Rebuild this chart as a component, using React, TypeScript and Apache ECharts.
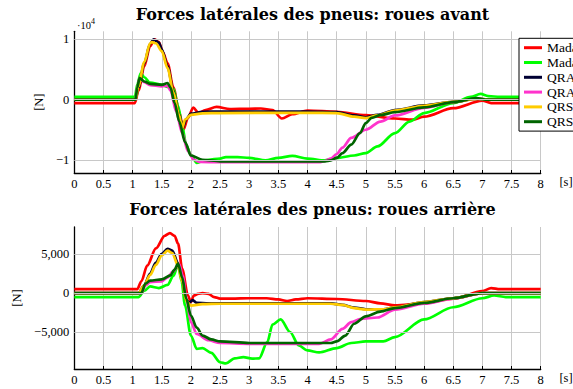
import React, { useEffect, useRef } from "react";
import * as echarts from "echarts";

type P = [number, number][];

const SERIES_NAMES = ["Mada G", "Mada D", "QRA G", "QRA D", "QRS G", "QRS D"];
const COLORS = ["#ff0000", "#00ff00", "#000033", "#ff33cc", "#ffcc00", "#006400"];

const TITLE_FRONT = "Forces latérales des pneus: roues avant";
const TITLE_REAR = "Forces latérales des pneus: roues arrière";
const FRONT_TICKS = [-10000, 0, 10000];
const REAR_TICKS = [-5000, 0, 5000];

// Front tyres
const frontMadaG: P = [[0,-550],[1.04,-550],[1.1,1500],[1.2,5500],[1.3,8800],[1.38,9950],[1.45,9500],[1.52,7800],[1.6,6000],[1.7,2000],[1.8,-2000],[1.87,-4950],[1.95,-3000],[2.04,-1300],[2.13,-2200],[2.25,-1700],[2.44,-1200],[2.67,-1550],[3.0,-1500],[3.2,-1450],[3.4,-1700],[3.56,-3100],[3.74,-2400],[4.0,-1800],[4.5,-2000],[5.0,-2550],[5.5,-3100],[5.8,-3300],[6.0,-2800],[6.5,-1400],[7.0,-150],[7.15,-550],[8,-550]];
const frontMadaD: P = [[0,450],[1.04,450],[1.08,2500],[1.14,4400],[1.2,3700],[1.3,2800],[1.5,2500],[1.6,2100],[1.7,1800],[1.78,-1000],[1.85,-4300],[1.92,-7500],[2.0,-9100],[2.1,-10400],[2.2,-10100],[2.3,-9900],[2.5,-9700],[2.6,-9450],[2.8,-9450],[3.0,-9600],[3.28,-10000],[3.5,-9600],[3.74,-9250],[4.0,-9700],[4.3,-10000],[4.5,-9600],[4.8,-9200],[5.0,-8800],[5.2,-7700],[5.5,-5500],[5.75,-3600],[6.0,-2200],[6.5,-550],[6.8,450],[6.97,950],[7.1,600],[7.3,450],[8,450]];
const frontQraG: P = [[0,0],[1.05,0],[1.1,2000],[1.2,6000],[1.3,9200],[1.36,9950],[1.45,9400],[1.5,8300],[1.6,5500],[1.7,1400],[1.8,-2500],[1.86,-4600],[1.92,-3200],[2.0,-2300],[2.2,-2000],[2.5,-1950],[3.0,-1950],[4.0,-1950],[4.5,-2050],[4.8,-2600],[5.0,-2900],[5.2,-2500],[5.5,-1700],[6.0,-950],[6.5,-350],[6.9,150],[7.0,100],[7.1,0],[8,0]];
const frontQraD: P = [[0,0],[1.05,0],[1.08,2000],[1.12,3500],[1.2,2900],[1.3,2400],[1.5,2200],[1.6,2300],[1.65,1500],[1.75,-2000],[1.85,-5500],[1.95,-8500],[2.05,-9900],[2.15,-10250],[2.5,-10300],[4.2,-10300],[4.3,-10100],[4.4,-9700],[4.5,-8950],[4.6,-7900],[4.75,-6300],[5.0,-4950],[5.25,-3600],[5.5,-2600],[6.0,-1350],[6.5,-400],[6.9,200],[7.05,0],[8,0]];
const frontQrsG: P = [[0,0],[1.05,0],[1.1,2200],[1.2,6200],[1.3,9300],[1.33,9500],[1.4,9300],[1.5,8000],[1.6,5200],[1.7,1200],[1.8,-2600],[1.85,-4700],[1.9,-3300],[2.0,-2500],[2.2,-2250],[2.5,-2200],[4.0,-2150],[4.5,-2200],[4.8,-2800],[5.0,-3050],[5.2,-2600],[5.5,-1800],[6.0,-1000],[6.5,-350],[6.9,150],[7.0,100],[7.1,0],[8,0]];
const frontQrsD: P = [[0,0],[1.05,0],[1.08,2000],[1.12,3550],[1.2,3000],[1.3,2600],[1.5,2450],[1.6,2750],[1.65,2000],[1.72,-500],[1.8,-3600],[1.9,-7000],[2.0,-9200],[2.2,-9900],[2.5,-10150],[4.3,-10150],[4.4,-10000],[4.5,-9600],[4.6,-8800],[4.75,-7400],[4.9,-5500],[5.0,-3850],[5.1,-3000],[5.25,-2550],[5.5,-2050],[6.0,-1250],[6.5,-400],[6.9,250],[7.05,0],[8,0]];

// Rear tyres
const rearMadaG: P = [[0,500],[1.08,500],[1.15,1500],[1.25,3500],[1.4,5700],[1.55,7300],[1.64,7650],[1.72,7300],[1.78,6300],[1.85,3100],[1.95,-300],[2.0,-1150],[2.05,-300],[2.12,-100],[2.2,0],[2.3,-100],[2.4,-500],[2.5,-700],[2.7,-700],[3.0,-650],[3.3,-650],[3.5,-800],[3.65,-1000],[3.8,-800],[4.0,-650],[4.5,-750],[5.0,-1000],[5.25,-1300],[5.5,-1550],[6.0,-1300],[6.5,-700],[7.0,250],[7.15,650],[7.3,500],[8,500]];
const rearMadaD: P = [[0,-500],[1.1,-500],[1.2,300],[1.3,850],[1.45,650],[1.6,1050],[1.7,2200],[1.78,3600],[1.84,1500],[1.9,-1600],[2.0,-5400],[2.1,-7100],[2.2,-7000],[2.35,-7600],[2.5,-8800],[2.6,-8950],[2.75,-8300],[2.9,-8150],[3.05,-8350],[3.17,-8300],[3.31,-6250],[3.4,-4000],[3.54,-3350],[3.7,-4950],[3.85,-6650],[4.0,-7300],[4.2,-7550],[4.5,-7000],[4.75,-6350],[5.0,-6150],[5.3,-6150],[5.5,-5600],[6.0,-3350],[6.5,-1800],[7.0,-650],[7.2,-300],[7.4,-500],[8,-500]];
const rearQraG: P = [[0,0],[1.1,0],[1.2,1000],[1.3,2500],[1.4,3900],[1.5,5000],[1.6,5650],[1.68,5400],[1.78,3800],[1.85,1700],[1.92,-900],[1.97,-1200],[2.03,-900],[2.1,-1250],[2.3,-1300],[4.4,-1300],[4.6,-1500],[4.8,-1850],[5.0,-2050],[5.3,-2050],[5.5,-1800],[6.0,-1150],[6.5,-650],[7.0,0],[8,0]];
const rearQraD: P = [[0,0],[1.15,0],[1.22,1000],[1.3,1400],[1.5,1500],[1.6,2000],[1.7,2800],[1.8,3700],[1.86,2200],[1.93,-1000],[2.0,-3700],[2.1,-5200],[2.3,-6000],[2.5,-6350],[3.0,-6450],[4.2,-6450],[4.4,-5900],[4.6,-4550],[4.75,-3700],[4.9,-3300],[5.2,-3100],[5.5,-2100],[6.0,-1350],[6.5,-700],[7.0,0],[8,0]];
const rearQrsG: P = [[0,0],[1.1,0],[1.2,1000],[1.3,2300],[1.4,3600],[1.5,4800],[1.6,5400],[1.68,5100],[1.78,3500],[1.85,1500],[1.92,-1000],[2.0,-1600],[2.2,-1400],[2.5,-1350],[4.4,-1350],[4.6,-1500],[4.8,-1900],[5.0,-2100],[5.3,-2050],[5.5,-1800],[6.0,-1150],[6.5,-650],[7.0,0],[8,0]];
const rearQrsD: P = [[0,0],[1.15,0],[1.22,1200],[1.3,1600],[1.5,1750],[1.65,2250],[1.72,3000],[1.78,3750],[1.85,2000],[1.92,-700],[2.0,-2850],[2.1,-4400],[2.2,-5400],[2.35,-5900],[2.5,-6150],[3.0,-6350],[4.4,-6350],[4.5,-6150],[4.65,-5400],[4.8,-3900],[5.0,-2950],[5.25,-2350],[5.5,-1900],[6.0,-1250],[6.5,-650],[7.0,0],[8,0]];

const FRONT = [frontMadaG, frontMadaD, frontQraG, frontQraD, frontQrsG, frontQrsD];
const REAR = [rearMadaG, rearMadaD, rearQraG, rearQraD, rearQrsG, rearQrsD];

const SERIF = "Liberation Serif";
const TITLE_FONT = "DejaVu Serif";
const minus = (s: string) => s.replace("-", "\u2212");

export default function App() {
  const ref = useRef<HTMLDivElement>(null);
  useEffect(() => {
    if (!ref.current) return;
    const chart = echarts.init(ref.current, null, { renderer: "svg" });
    const grids = [
      { left: 74.3, width: 466.4, top: 31.3, height: 141.7 },
      { left: 74.3, width: 466.4, top: 227, height: 142 },
    ];
    const xAxisBase = (gi: number) => ({
      type: "value",
      gridIndex: gi,
      min: 0,
      max: 8,
      interval: 0.5,
      axisLine: { show: true, onZero: false, lineStyle: { color: "#000", width: 1.3 } },
      axisTick: { show: true, inside: true, length: 3, lineStyle: { color: "#000" } },
      axisLabel: { color: "#000", fontFamily: SERIF, fontSize: 12.5, margin: 4 },
      splitLine: { show: true, lineStyle: { color: "#c8c8c8", width: 1 } },
    });
    const yAxisBase = (gi: number, min: number, max: number, ticks: number[], fmt: (v: number) => string) => ({
      type: "value",
      gridIndex: gi,
      min,
      max,
      name: "[N]",
      nameLocation: "middle",
      nameRotate: 90,
      nameGap: 28,
      nameTextStyle: { color: "#000", fontFamily: SERIF, fontSize: 12.5 },
      axisLine: { show: true, onZero: false, lineStyle: { color: "#000", width: 1.3 } },
      axisTick: { show: true, inside: true, length: 3, customValues: ticks, lineStyle: { color: "#000" } },
      axisLabel: { color: "#000", fontFamily: SERIF, fontSize: 12.5, margin: 5, customValues: ticks, formatter: fmt },
      splitLine: { show: false },
    });
    const gridLines = (gi: number, ticks: number[]) => ({
      type: "line",
      name: "grid" + gi,
      xAxisIndex: gi,
      yAxisIndex: gi,
      data: [],
      z: 1,
      silent: true,
      markLine: {
        silent: true,
        symbol: "none",
        label: { show: false },
        lineStyle: { color: "#c8c8c8", type: "solid", width: 1 },
        data: ticks.map((t) => ({ yAxis: t })),
      },
    });
    const mk = (data: P, i: number, gi: number) => ({
      type: "line",
      name: SERIES_NAMES[i],
      xAxisIndex: gi,
      yAxisIndex: gi,
      data,
      symbol: "none",
      smooth: 0.3,
      smoothMonotone: "x",
      lineStyle: { color: COLORS[i], width: 2.7 },
      itemStyle: { color: COLORS[i] },
      z: 2,
    });
    const option: any = {
      animation: false,
      backgroundColor: "#fff",
      grid: grids,
      title: [
        { text: TITLE_FRONT, left: 307.5, top: 1, textAlign: "center", textStyle: { fontFamily: TITLE_FONT, fontSize: 16, fontWeight: "bold", color: "#000" } },
        { text: TITLE_REAR, left: 307.5, top: 196, textAlign: "center", textStyle: { fontFamily: TITLE_FONT, fontSize: 16, fontWeight: "bold", color: "#000" } },
      ],
      xAxis: [xAxisBase(0), xAxisBase(1)],
      yAxis: [
        yAxisBase(0, -12080, 11270, FRONT_TICKS, (v: number) => minus(String(v / 10000))),
        yAxisBase(1, -9660, 8420, REAR_TICKS, (v: number) => minus(v === 0 ? "0" : (v < 0 ? "-" : "") + Math.abs(v).toLocaleString("en-US"))),
      ],
      legend: {
        data: SERIES_NAMES,
        orient: "vertical",
        left: 519,
        top: 38.3,
        backgroundColor: "#fff",
        borderColor: "#000",
        borderWidth: 1,
        borderRadius: 0,
        padding: [2, 40, 2, 5],
        itemGap: 0,
        itemWidth: 18,
        itemHeight: 3,
        icon: "rect",
        textStyle: { fontFamily: SERIF, fontSize: 13.5, lineHeight: 14.8, color: "#000" },
        z: 10,
      },
      graphic: [
        { type: "text", left: 77, top: 20, style: { text: "\u00b710", fontFamily: SERIF, fontSize: 10.5, fill: "#000" } },
        { type: "text", left: 91, top: 17.5, style: { text: "4", fontFamily: SERIF, fontSize: 8, fill: "#000" } },
        { type: "text", x: 566, y: 182, style: { text: "[s]", fontFamily: SERIF, fontSize: 12.5, fill: "#000", align: "center", verticalAlign: "middle" } },
        { type: "text", x: 566, y: 378, style: { text: "[s]", fontFamily: SERIF, fontSize: 12.5, fill: "#000", align: "center", verticalAlign: "middle" } },
      ],
      series: [
        gridLines(0, FRONT_TICKS),
        gridLines(1, REAR_TICKS),
        ...FRONT.map((d, i) => mk(d, i, 0)),
        ...REAR.map((d, i) => mk(d, i, 1)),
      ],
    };
    chart.setOption(option);
    return () => chart.dispose();
  }, []);
  return <div ref={ref} style={{ position: "absolute", left: 0, top: 0, width: 573, height: 389 }} />;
}
